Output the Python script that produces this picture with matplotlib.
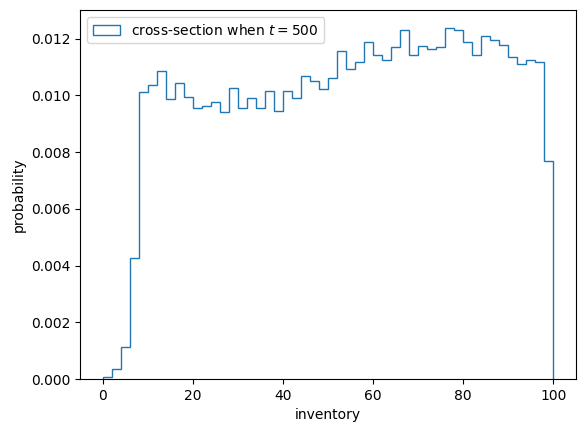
import numpy as np
import matplotlib
matplotlib.use('Agg')
import matplotlib.pyplot as plt

# bin edges 0..100 in steps of 2, probability density per bin
edges = np.arange(0, 102, 2)
density = [
   0.00006, 0.00036, 0.00112, 0.00425, 0.01011, 0.01035, 0.01087, 0.00988,
   0.01042, 0.00995, 0.00957, 0.00964, 0.00978, 0.00940, 0.01026, 0.00957,
   0.00991, 0.00957, 0.01015, 0.00944, 0.01017, 0.00992, 0.01069, 0.01052,
   0.01021, 0.01062, 0.01157, 0.01092, 0.01119, 0.01188, 0.01144, 0.01126,
   0.01169, 0.01232, 0.01141, 0.01173, 0.01162, 0.01169, 0.01239, 0.01232,
   0.01189, 0.01143, 0.01210, 0.01196, 0.01176, 0.01137, 0.01109, 0.01126,
   0.01119, 0.00768,
]

centers = (edges[:-1] + edges[1:]) / 2

figure = plt.figure(figsize=(5.85, 4.33), dpi=100)
plt.subplots_adjust(left=0.1368, right=0.9846, top=0.9769, bottom=0.1247)

plt.hist(centers, bins=edges, weights=density, histtype='step',
   label=r'cross-section when $t = 500$')

plt.xlabel('inventory')
plt.ylabel('probability')
plt.legend(loc='upper left')

figure.savefig('out.png', dpi=100)
